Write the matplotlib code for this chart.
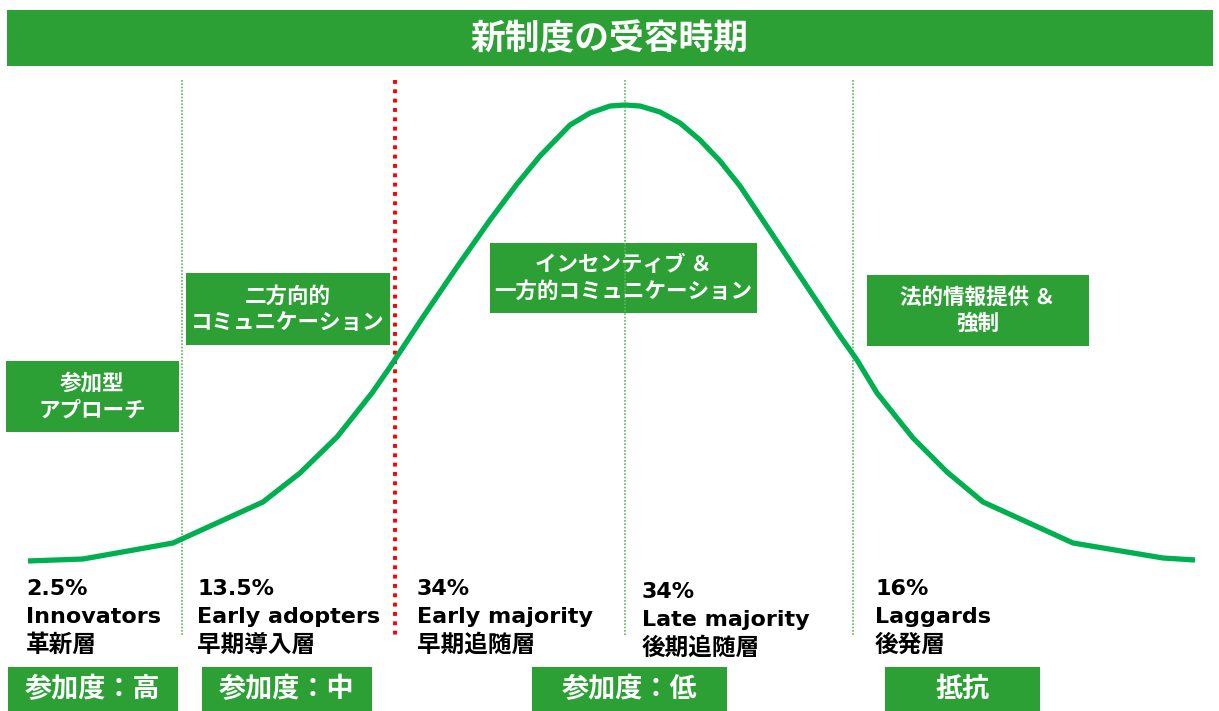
import matplotlib
matplotlib.use("Agg")
import matplotlib.pyplot as plt
from matplotlib.patches import Rectangle

plt.rcParams['font.family'] = ['Noto Sans CJK JP', 'DejaVu Sans']
LATIN = ['DejaVu Sans', 'Noto Sans CJK JP']

W, H = 1219, 711
GREEN = "#2ca034"
CURVE = "#00b050"

TITLE = "新制度の受容時期"

# adoption curve, traced in canvas pixels (x right, y down)
curve_x = [28, 83, 173, 263, 300, 337, 372, 390, 423, 457, 490, 517, 540, 570,
           590, 610, 625, 640, 660, 680, 700, 720, 740, 760, 780, 800, 820, 840,
           857, 877, 913, 947, 983, 1073, 1163, 1195]
curve_y = [561, 559, 543, 502, 473, 437, 393, 367, 317, 267, 220, 184, 156, 125,
           113, 106, 105, 106, 112, 123, 140, 161, 186, 216, 246, 276, 306, 336,
           360, 393, 438, 472, 502, 543, 558, 560]

# segment boundaries
divider_x = [182, 625, 853]
chasm_x = 395

# adopter groups
shares = ["2.5%", "13.5%", "34%", "34%", "16%"]
groups_en = ["Innovators", "Early adopters", "Early majority", "Late majority", "Laggards"]
groups_ja = ["革新層", "早期導入層", "早期追随層", "後期追随層", "後発層"]
label_x = [26, 197, 417, 642, 875]
label_dy = [0, 0, 0, 3, 0]

# approach boxes: (x0, y0, x1, y1, text)
approach = [
    (6, 361, 179, 432, "参加型\nアプローチ"),
    (186, 273, 390, 345, "二方向的\nコミュニケーション"),
    (490, 243, 757, 313, "インセンティブ ＆\n一方的コミュニケーション"),
    (867, 275, 1089, 346, "法的情報提供 ＆\n強制"),
]

# participation boxes along the bottom
participation = [
    (8, 667, 178, 711, "参加度：高"),
    (202, 667, 372, 711, "参加度：中"),
    (532, 667, 727, 711, "参加度：低"),
    (885, 667, 1040, 711, "抵抗"),
]

fig = plt.figure(figsize=(W / 100, H / 100), dpi=100)
ax = fig.add_axes([0, 0, 1, 1])
ax.set_xlim(0, W)
ax.set_ylim(H, 0)
ax.axis("off")

# title bar
ax.add_patch(Rectangle((7, 10), 1206, 56, color=GREEN, lw=0))
ax.text(W / 2, 39, TITLE, color="white", fontsize=25, fontweight="bold",
        ha="center", va="center")

# dividers
for x in divider_x:
    ax.plot([x, x], [80, 636], color="#5cb85c", lw=1.2, ls=(0, (1, 1)))
ax.plot([chasm_x, chasm_x], [80, 636], color="red", lw=2.8, ls=(0, (1, 1.4)))

# curve
ax.plot(curve_x, curve_y, color=CURVE, lw=3.8, solid_joinstyle="round",
        solid_capstyle="butt")

for x0, y0, x1, y1, txt in approach:
    ax.add_patch(Rectangle((x0, y0), x1 - x0, y1 - y0, color=GREEN, lw=0))
    ax.text((x0 + x1) / 2, (y0 + y1) / 2, txt, color="white", fontsize=15.5,
            fontweight="bold", ha="center", va="center", linespacing=1.3)

for x, dy, s, en, ja in zip(label_x, label_dy, shares, groups_en, groups_ja):
    ax.text(x, 589 + dy, s, family=LATIN, fontsize=16, fontweight="bold", va="center")
    ax.text(x, 617 + dy, en, family=LATIN, fontsize=16, fontweight="bold", va="center")
    ax.text(x, 645 + dy, ja, fontsize=17, fontweight="bold", va="center")

for x0, y0, x1, y1, txt in participation:
    ax.add_patch(Rectangle((x0, y0), x1 - x0, y1 - y0, color=GREEN, lw=0))
    ax.text((x0 + x1) / 2, (y0 + y1) / 2, txt, color="white", fontsize=19.5,
            fontweight="bold", ha="center", va="center")

fig.savefig("out.png", dpi=100)
